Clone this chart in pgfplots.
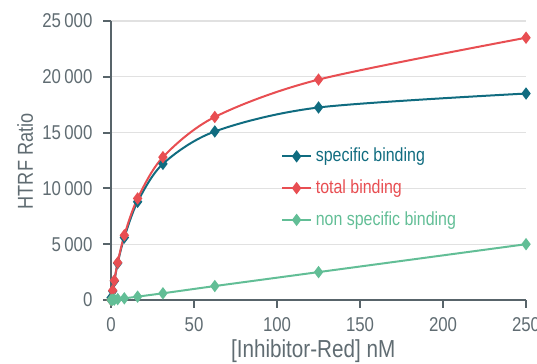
\documentclass[border=0pt]{standalone}
\usepackage{pgfplots}
\pgfplotsset{compat=1.18}
\usepackage{fontspec}
\setmainfont[FakeStretch=0.84]{Liberation Sans}
\definecolor{spec}{RGB}{16,108,128}
\definecolor{tot}{RGB}{232,78,82}
\definecolor{nons}{RGB}{98,190,150}
\definecolor{axgray}{RGB}{88,100,106}
\definecolor{txtgray}{RGB}{96,108,114}
\definecolor{gridgray}{RGB}{225,225,225}
\begin{document}
\begin{tikzpicture}
\begin{axis}[
  scale only axis,
  width=207.5pt, height=139.5pt,
  xmin=0, xmax=250, ymin=0, ymax=25000,
  axis lines=left,
  axis line style={axgray, line width=1.1pt, -},
  xtick={0,50,...,250},
  ytick={0,5000,...,25000},
  scaled y ticks=false,
  yticklabel style={/pgf/number format/fixed, /pgf/number format/1000 sep={\,}, xshift=-2pt},
  xticklabel style={yshift=-1.5pt},
  tick style={axgray, line width=1pt},
  tick align=outside,
  major tick length=3.8pt,
  ymajorgrids,
  grid style={gridgray, line width=0.6pt},
  tick label style={font=\fontsize{10}{12}\selectfont, text=txtgray},
  /pgf/number format/assume math mode=true,
  xlabel={[Inhibitor-Red] nM},
  ylabel={HTRF Ratio},
  xlabel style={font=\fontsize{12.3}{14}\selectfont, text=txtgray, at={(axis description cs:0.487,-0.185)}, anchor=center},
  ylabel style={font=\fontsize{10.8}{13}\selectfont, text=txtgray, at={(axis description cs:-0.207,0.497)}, anchor=center},
  clip=false,
  legend style={draw=none, fill=none, at={(0.395,0.575)}, anchor=north west,
    font=\fontsize{9.5}{11}\selectfont, row sep=3.5pt, legend cell align=left},
  legend image code/.code={
    \draw[#1, line width=1pt] (0cm,0cm) -- (0.5cm,0cm);
    \draw[#1, mark repeat=2, mark phase=2] plot coordinates {(0cm,0cm) (0.25cm,0cm) (0.5cm,0cm)};
  },
]
\addplot[spec, line width=1pt, smooth, tension=0.5, mark=diamond*, mark size=2.3pt, mark options={solid}]
coordinates {(0,200) (1,800) (2,1700) (4,3300) (8,5600) (16,8800) (31.25,12200) (62.5,15100) (125,17250) (250,18500)};
\addlegendentry{\textcolor{spec}{specific binding}}
\addplot[tot, line width=1pt, smooth, tension=0.5, mark=diamond*, mark size=2.3pt]
coordinates {(0,0) (1,850) (2,1750) (4,3350) (8,5800) (16,9100) (31.25,12800) (62.5,16400) (125,19750) (250,23500)};
\addlegendentry{\textcolor{tot}{total binding}}
\addplot[nons, line width=1pt, mark=diamond*, mark size=2.3pt]
coordinates {(0,0) (1,20) (2,40) (4,80) (8,150) (16,300) (31.25,600) (62.5,1250) (125,2500) (250,5000)};
\addlegendentry{\textcolor{nons}{non specific binding}}
\coordinate (bbl) at (axis cs:-66.9,-5735);
\coordinate (btr) at (axis cs:256.6,26882);
\end{axis}
\pgfresetboundingbox
\useasboundingbox (bbl) rectangle (btr);
\end{tikzpicture}
\end{document}
